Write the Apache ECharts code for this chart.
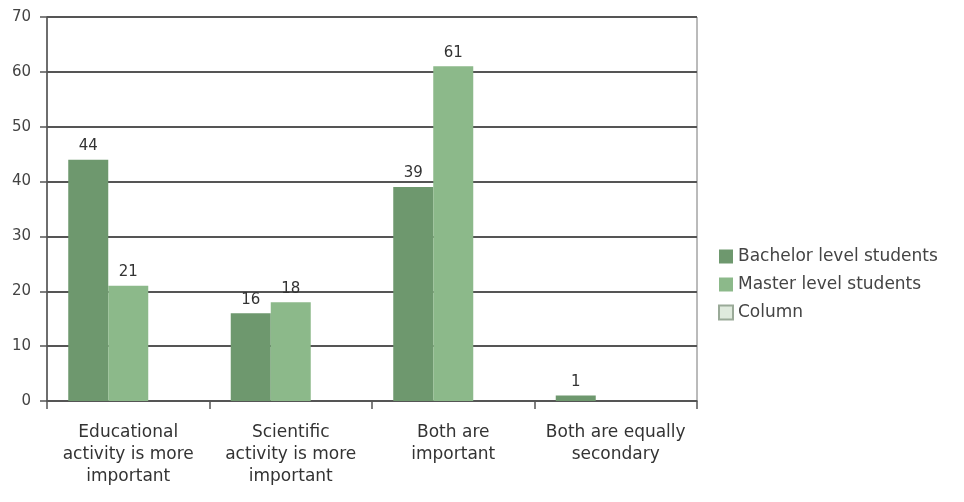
<!DOCTYPE html>
<html>
<head>
<meta charset="utf-8">
<script src="https://cdn.jsdelivr.net/npm/echarts@6/dist/echarts.min.js"></script>
<style>
  html, body { margin: 0; padding: 0; background: #fff; }
  #chart { width: 964px; height: 502px; }
</style>
</head>
<body>
<div id="chart"></div>
<script>
// Survey answers: which activity matters more
const categories = [
  'Educational\nactivity is more\nimportant',
  'Scientific\nactivity is more\nimportant',
  'Both are\nimportant',
  'Both are equally\nsecondary'
];
const bachelor = [44, 16, 39, 1];
const master = [21, 18, 61, null];
const column = [null, null, null, null];
const yTicks = { min: 0, max: 70, interval: 10 };

const FONT = '"DejaVu Sans", "Noto Sans", sans-serif';

const labelStyle = {
  show: true,
  position: 'top',
  distance: 6,
  color: '#333',
  fontSize: 15,
  fontFamily: FONT,
  formatter: p => (p.value == null ? '' : p.value)
};

const chart = echarts.init(document.getElementById('chart'), null, { renderer: 'canvas' });
chart.setOption({
  animation: false,
  backgroundColor: '#fff',
  grid: {
    left: 47, right: 267, top: 17, bottom: 101,
    show: true, borderColor: '#777', borderWidth: 1
  },
  legend: {
    orient: 'vertical',
    left: 713,
    top: 243,
    icon: 'rect',
    itemWidth: 14,
    itemHeight: 14,
    itemGap: 11,
    textStyle: { fontSize: 17, color: '#444', fontFamily: FONT },
    data: ['Bachelor level students', 'Master level students', 'Column']
  },
  xAxis: {
    type: 'category',
    data: categories,
    axisLine: { lineStyle: { color: '#555', width: 1.5 } },
    axisTick: { show: true, length: 8, lineStyle: { color: '#555', width: 1.5 } },
    axisLabel: {
      color: '#333', fontSize: 17, fontFamily: FONT,
      lineHeight: 22, margin: 21, interval: 0
    }
  },
  yAxis: {
    type: 'value',
    min: yTicks.min, max: yTicks.max, interval: yTicks.interval,
    axisLine: { show: true, lineStyle: { color: '#555', width: 1.5 } },
    axisTick: { show: true, length: 7, lineStyle: { color: '#555', width: 1.5 } },
    axisLabel: { color: '#444', fontSize: 15, fontFamily: FONT, margin: 16 },
    splitLine: { lineStyle: { color: '#555', width: 2 } }
  },
  series: [
    {
      name: 'Bachelor level students', type: 'bar', data: bachelor,
      barWidth: 40, barGap: '0%',
      itemStyle: { color: '#6e986e' },
      label: labelStyle
    },
    {
      name: 'Master level students', type: 'bar', data: master,
      barWidth: 40, barGap: '0%',
      itemStyle: { color: '#8cb98a' },
      label: labelStyle
    },
    {
      name: 'Column', type: 'bar', data: column,
      barWidth: 40, barGap: '0%',
      itemStyle: { color: '#dfeadd', borderColor: '#9aaa98', borderWidth: 1 },
      label: labelStyle
    }
  ]
});
</script>
</body>
</html>
